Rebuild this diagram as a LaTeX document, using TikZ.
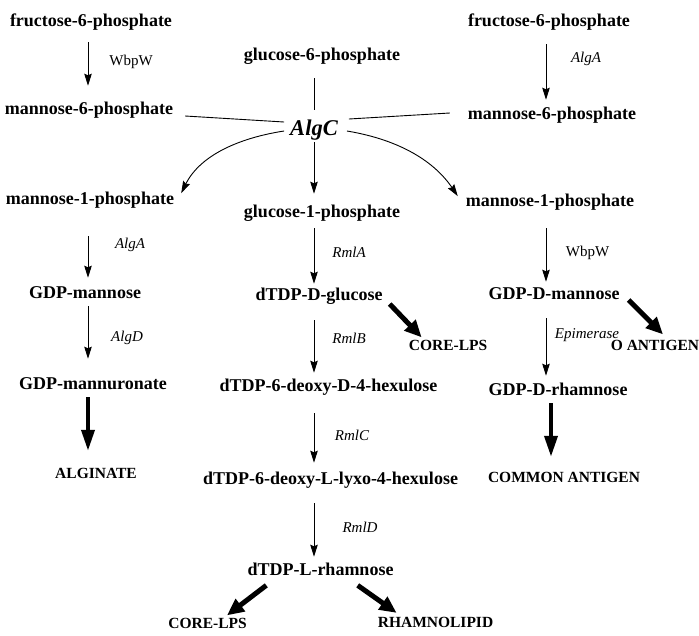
\documentclass[tikz,border=0pt]{standalone}
\usepackage{fontspec}
\setmainfont{Liberation Serif}
\usetikzlibrary{arrows.meta,calc}
\begin{document}
\begin{tikzpicture}[x=1pt,y=-1pt,
  cmpd/.style={font=\fontsize{18}{21}\selectfont\bfseries, text height=13pt, text depth=4.3pt, inner sep=2pt},
  prod/.style={font=\fontsize{15.5}{18}\selectfont\bfseries, text height=11.2pt, text depth=3.7pt, inner sep=2pt},
  algcbox/.style={font=\fontsize{22.5}{25}\selectfont\bfseries\itshape, text height=15.5pt, text depth=5pt, inner sep=1pt},
  enzit/.style={font=\fontsize{15}{17}\selectfont\itshape, inner sep=1pt},
  enz/.style={font=\fontsize{15}{17}\selectfont, inner sep=1pt},
  thinarr/.style={line width=0.9pt, -{Stealth[length=12pt,width=7.5pt,inset=1.5pt]}},
  link/.style={line width=0.9pt},
  fatarr/.style={line width=3.8pt, -{Triangle[length=21pt,width=13pt]}},
  fatdiag/.style={line width=5pt, -{Triangle[length=17pt,width=15pt]}}
]
\useasboundingbox (0,0) rectangle (699,635);

% column axes for the vertical steps
\coordinate (axL) at (88,0);
\coordinate (axM) at (314,0);
\coordinate (axR) at (546,0);
\coordinate (axRR) at (551,0);

% metabolites
\node[cmpd] (f6pL) at (91,22) {fructose-6-phosphate};
\node[cmpd] (m6pL) at (89,110) {mannose-6-phosphate};
\node[cmpd] (g6p) at (322,56) {glucose-6-phosphate};
\node[cmpd] (f6pR) at (549,22) {fructose-6-phosphate};
\node[cmpd] (m6pR) at (552,115) {mannose-6-phosphate};
\node[algcbox] (algc) at (314,130) {AlgC};
\node[cmpd] (m1pL) at (90,200) {mannose-1-phosphate};
\node[cmpd] (g1p) at (322,213) {glucose-1-phosphate};
\node[cmpd] (m1pR) at (550,202) {mannose-1-phosphate};
\node[cmpd] (gdpman) at (85,294) {GDP-mannose};
\node[cmpd] (dtdpg) at (319,296) {dTDP-D-glucose};
\node[cmpd] (gdpdman) at (554,295) {GDP-D-mannose};
\node[prod] (lpsM) at (448,347) {CORE-LPS};
\node[prod] (oant) at (655,347) {O ANTIGEN};
\node[cmpd] (gdpmur) at (93,385) {GDP-mannuronate};
\node[cmpd] (hexA) at (328.5,387) {dTDP-6-deoxy-D-4-hexulose};
\node[cmpd] (gdpdrha) at (558,391) {GDP-D-rhamnose};
\node[prod] (alg) at (96,475) {ALGINATE};
\node[cmpd] (hexB) at (330.5,480) {dTDP-6-deoxy-L-lyxo-4-hexulose};
\node[prod] (common) at (564,479) {COMMON ANTIGEN};
\node[cmpd] (dtdpl) at (320.5,571) {dTDP-L-rhamnose};
\node[prod] (lpsB) at (207.6,625) {CORE-LPS};
\node[prod] (rhl) at (435.5,624) {RHAMNOLIPID};

% enzymes
\node[enz] (eWL) at (131,62) {WbpW};
\node[enzit] (eAR) at (586,59) {AlgA};
\node[enzit] (eAL) at (130,245) {AlgA};
\node[enzit] (eRA) at (349,252) {RmlA};
\node[enz] (eWR) at (587.5,253) {WbpW};
\node[enzit] (eD) at (127,338) {AlgD};
\node[enzit] (eRB) at (349,338) {RmlB};
\node[enzit] (eEp) at (587,335) {Epimerase};
\node[enzit] (eRC) at (352,435) {RmlC};
\node[enzit] (eRD) at (360,527) {RmlD};

% left column
\draw[thinarr, shorten <=9.4pt, shorten >=13.4pt] (f6pL.south -| axL) -- (m6pL.north -| axL);
\draw[thinarr, shorten <=25.4pt, shorten >=5.4pt] (m1pL.south -| axL) -- (gdpman.north -| axL);
\draw[thinarr, shorten <=1.4pt, shorten >=15.4pt] (gdpman.south -| axL) -- (gdpmur.north -| axL);
\draw[fatarr, shorten <=1.4pt, shorten >=14.6pt] (gdpmur.south -| axL) -- (alg.north -| axL);

% right column
\draw[thinarr, shorten <=11.4pt, shorten >=4.4pt] (f6pR.south -| axR) -- (m6pR.north -| axR);
\draw[thinarr, shorten <=15.4pt, shorten >=2.4pt] (m1pR.south -| axR) -- (gdpdman.north -| axR);
\draw[thinarr, shorten <=12.4pt, shorten >=4.4pt] (gdpdman.south -| axR) -- (gdpdrha.north -| axR);
\draw[fatarr, shorten <=1.4pt, shorten >=12.6pt] (gdpdrha.south -| axRR) -- (common.north -| axRR);

% middle column
\draw[link, shorten <=11.4pt, shorten >=9pt] (g6p.south -| axM) -- (algc.north -| axM);
\draw[thinarr, shorten <=1pt, shorten >=8.4pt] (algc.south -| axM) -- (g1p.north -| axM);
\draw[thinarr, shorten <=4.4pt, shorten >=1.4pt] (g1p.south -| axM) -- (dtdpg.north -| axM);
\draw[thinarr, shorten <=13.4pt, shorten >=3.4pt] (dtdpg.south -| axM) -- (hexA.north -| axM);
\draw[thinarr, shorten <=15.4pt, shorten >=6.4pt] (hexA.south -| axM) -- (hexB.north -| axM);
\draw[thinarr, shorten <=12.4pt, shorten >=3.4pt] (hexB.south -| axM) -- (dtdpl.north -| axM);

% mannose-6-phosphate feeds into AlgC from both sides
\draw[link] ($(m6pL.east)+(10,6)$) -- ($(algc.west)+(-5,-8)$);
\draw[link] ($(algc.east)+(10,-11)$) -- ($(m6pR.west)+(-16,-2)$);

% AlgC branches to mannose-1-phosphate
\draw[thinarr] ($(algc.west)+(-5,1)$)
  .. controls ($(algc.west)+(-50,8)$) and ($(m1pL.north east)+(24,-34)$)
  .. ($(m1pL.north east)+(5,4)$);
\draw[thinarr] ($(algc.east)+(8,1)$)
  .. controls ($(algc.east)+(62,10)$) and ($(m1pR.north west)+(-29,-29)$)
  .. ($(m1pR.north west)+(-6,5)$);

% end products
\draw[fatdiag] ($(dtdpg.east)+(5,8)$) -- ($(lpsM.north west)+(15,0)$);
\draw[fatdiag] ($(gdpdman.east)+(7,5)$) -- ($(oant.north)+(8,-3)$);
\draw[fatdiag] ($(dtdpl.south west)+(21,3.5)$) -- ($(lpsB.north east)+(-22,0)$);
\draw[fatdiag] ($(dtdpl.south east)+(-38,3.5)$) -- ($(rhl.north west)+(21,-1.5)$);
\end{tikzpicture}
\end{document}
